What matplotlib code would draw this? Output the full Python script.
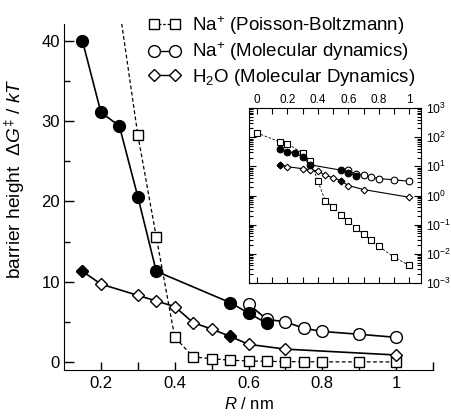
import numpy as np
import matplotlib
matplotlib.use("Agg")
import matplotlib.pyplot as plt
from matplotlib.ticker import FixedLocator, LogLocator, NullFormatter
from matplotlib.lines import Line2D

plt.rcParams['font.family'] = ['Liberation Sans', 'DejaVu Sans']
plt.rcParams['mathtext.fontset'] = 'custom'
plt.rcParams['mathtext.rm'] = 'Liberation Sans'
plt.rcParams['mathtext.it'] = 'Liberation Sans:italic'
plt.rcParams['mathtext.bf'] = 'Liberation Sans:bold'

# Na+ Poisson-Boltzmann (open squares, dashed)
r_pb = [0.0, 0.15, 0.2, 0.3, 0.35, 0.4, 0.45, 0.5, 0.55, 0.6, 0.65, 0.7, 0.75, 0.8, 0.9, 1.0]
g_pb = [140, 69, 60, 28.3, 15.6, 3.1, 0.63, 0.41, 0.22, 0.13, 0.079, 0.047, 0.029, 0.018, 0.0077, 0.004]

# Na+ molecular dynamics, filled circles
r_na_f = [0.15, 0.2, 0.25, 0.3, 0.35, 0.55, 0.6, 0.65]
g_na_f = [40, 31.1, 29.4, 20.6, 11.3, 7.4, 6.1, 4.8]
# Na+ molecular dynamics, open circles
r_na_o = [0.6, 0.65, 0.7, 0.75, 0.8, 0.9, 1.0]
g_na_o = [7.2, 5.3, 5.0, 4.2, 3.8, 3.45, 3.07]

# H2O molecular dynamics (diamonds), filled at 0.15 and 0.55
r_w = [0.15, 0.2, 0.3, 0.35, 0.4, 0.45, 0.5, 0.55, 0.6, 0.7, 1.0]
g_w = [11.3, 9.7, 8.3, 7.6, 6.9, 4.9, 4.1, 3.2, 2.2, 1.6, 0.87]
filled_w = [0, 7]

xticks_main = [0.2, 0.4, 0.6, 0.8, 1.0]
xlabels_main = ['0.2', '0.4', '0.6', '0.8', '1']
xticks_inset = [0, 0.2, 0.4, 0.6, 0.8, 1.0]
xlabels_inset = ['0', '0.2', '0.4', '0.6', '0.8', '1']


def draw(ax, big):
    if big:
        ms_o, ms_s, ms_d, lw, mew = 8.5, 7.7, 6.3, 1.2, 1.0
    else:
        ms_o, ms_s, ms_d, lw, mew = 4.8, 4.3, 3.4, 0.8, 0.8
    ax.plot(r_pb, g_pb, ls=(0, (3, 2)), lw=lw * 0.75, color='black', marker='s',
            ms=ms_s, mfc='white', mec='black', mew=mew, zorder=3)
    ax.plot(r_w, g_w, ls='-', lw=lw, color='black', marker='D', ms=ms_d,
            mfc='white', mec='black', mew=mew, zorder=3)
    ax.plot([r_w[i] for i in filled_w], [g_w[i] for i in filled_w], ls='none',
            marker='D', ms=ms_d, mfc='black', mec='black', mew=mew, zorder=4)
    ax.plot(r_na_o, g_na_o, ls='-', lw=lw, color='black', marker='o', ms=ms_o,
            mfc='white', mec='black', mew=mew, zorder=3)
    ax.plot(r_na_f, g_na_f, ls='-', lw=lw, color='black', marker='o', ms=ms_o,
            mfc='black', mec='black', mew=mew, zorder=4)


fig = plt.figure(figsize=(4.51, 4.16), dpi=100)

# main axes
ax = fig.add_axes([64 / 451, 46 / 416, 369 / 451, 346 / 416])
draw(ax, True)
ax.set_xlim(0.1, 1.1)
ax.set_ylim(-1, 42.1)
ax.spines['top'].set_visible(False)
ax.spines['right'].set_visible(False)
ax.xaxis.set_major_locator(FixedLocator(xticks_main))
ax.set_xticklabels(xlabels_main)
ax.xaxis.set_minor_locator(FixedLocator([0.3, 0.5, 0.7, 0.9, 1.1]))
ax.yaxis.set_major_locator(FixedLocator([0, 10, 20, 30, 40]))
ax.yaxis.set_minor_locator(FixedLocator([5, 15, 25, 35]))
ax.tick_params(axis='both', which='both', direction='in', labelsize=12, width=1)
ax.tick_params(axis='x', which='both', length=6, pad=4)
ax.tick_params(axis='y', which='major', length=7, pad=3)
ax.tick_params(axis='y', which='minor', length=4)
ax.set_xlabel(r'$R$ / nm', fontsize=12)
ax.set_ylabel(r'barrier height  $\Delta G^{\ddagger}$ / $kT$', fontsize=13.8)
ax.yaxis.set_label_coords(-0.1, 0.552)

handles = [
    Line2D([], [], ls=(0, (2, 1.5)), lw=0.9, color='black', marker='s', ms=7.7,
           mfc='white', mec='black'),
    Line2D([], [], ls='-', lw=1.0, color='black', marker='o', ms=8.5,
           mfc='white', mec='black'),
    Line2D([], [], ls='-', lw=1.0, color='black', marker='D', ms=6.3,
           mfc='white', mec='black'),
]
labels = [r'Na$^{+}$ (Poisson-Boltzmann)', r'Na$^{+}$ (Molecular dynamics)',
          r'H$_{2}$O (Molecular Dynamics)']
fig.legend(handles, labels, loc='upper left', bbox_to_anchor=(148.5 / 451, 1 - 14 / 416),
           frameon=False, numpoints=2, fontsize=13.5, handlelength=1.72,
           handletextpad=0.6, labelspacing=0.2, borderpad=0, borderaxespad=0)

# inset, log scale
axi = fig.add_axes([249 / 451, 133 / 416, 172 / 451, 175 / 416])
draw(axi, False)
axi.set_yscale('log')
axi.set_xlim(-0.052, 1.077)
axi.set_ylim(1e-3, 1e3)
axi.xaxis.set_major_locator(FixedLocator(xticks_inset))
axi.set_xticklabels(xlabels_inset)
axi.xaxis.set_minor_locator(FixedLocator([0.1, 0.3, 0.5, 0.7, 0.9]))
axi.yaxis.set_major_locator(LogLocator(base=10, numticks=10))
axi.yaxis.set_minor_locator(LogLocator(base=10, subs=np.arange(2, 10), numticks=10))
axi.yaxis.set_minor_formatter(NullFormatter())
axi.tick_params(axis='both', which='both', direction='in', width=0.8,
                top=True, bottom=True, left=True, right=True,
                labeltop=True, labelbottom=False, labelleft=False, labelright=True)
axi.tick_params(axis='x', which='both', length=4, pad=1.5, labelsize=8.5)
axi.tick_params(axis='y', which='major', length=5, pad=3.5, labelsize=8.8)
axi.tick_params(axis='y', which='minor', length=3)
for s in axi.spines.values():
    s.set_linewidth(0.8)

fig.savefig('out.png', dpi=100)
